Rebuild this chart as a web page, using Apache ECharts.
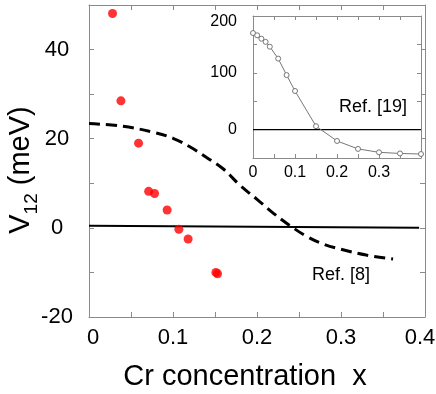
<!DOCTYPE html>
<html><head><meta charset="utf-8">
<script src="https://cdn.jsdelivr.net/npm/echarts@6/dist/echarts.min.js"></script>
<style>html,body{margin:0;padding:0;background:#fff}#c{width:436px;height:394px}</style>
</head><body><div id="c"></div>
<script>
// Main plot data
const redX = [0.028, 0.038, 0.059, 0.071, 0.078, 0.093, 0.107, 0.118, 0.151, 0.153];
const redY = [48.1, 28.5, 19.0, 8.2, 7.7, 4.0, -0.3, -2.5, -10.0, -10.3];
const ref8X = [0, 0.04, 0.08, 0.1, 0.12, 0.14, 0.16, 0.18, 0.2, 0.22, 0.24, 0.26, 0.28, 0.3, 0.33, 0.362];
const ref8Y = [23.4, 22.8, 21.3, 20.1, 18.2, 15.8, 13.2, 9.5, 6.4, 3.2, 0.4, -2.0, -3.7, -4.8, -6.1, -7.0];
const zeroX = [0, 0.393];
const zeroY = [0.5, 0];
// Inset data (Ref. [19])
const insetX = [0, 0.01, 0.02, 0.03, 0.04, 0.06, 0.08, 0.1, 0.15, 0.2, 0.25, 0.3, 0.35, 0.4];
const insetY = [170, 166, 160, 154.5, 146, 125, 96, 68, 6, -20, -34, -40, -42, -43];
const insetZeroX = [0, 0.4];
const insetZeroY = [0, 0];
// Tick labels
const mainXTicks = [0, 0.1, 0.2, 0.3, 0.4];
const mainYTicks = [-20, 0, 20, 40];
const insetXTicks = [0, 0.1, 0.2, 0.3];
const insetYTicks = [0, 100, 200];

const zip = (a, b) => a.map((v, i) => [v, b[i]]);
const FONT = 'Liberation Sans, Arial, sans-serif';
const frame = '#8a8a8a';
const near = (v, arr) => arr.some(t => Math.abs(t - v) < 1e-6);

const chart = echarts.init(document.getElementById('c'), null, {renderer: 'canvas'});

function frameAxis(gridIndex, pos, isX, min, max, interval, extra) {
  return Object.assign({
    type: 'value', gridIndex, position: pos, min, max, interval,
    axisLine: {show: true, onZero: false, lineStyle: {color: frame, width: 1}},
    axisTick: {show: true, inside: true, length: 5, lineStyle: {color: frame}},
    axisLabel: {show: false},
    splitLine: {show: false}
  }, extra || {});
}

chart.setOption({
  animation: false,
  backgroundColor: '#fff',
  grid: [
    {left: 89, top: 5, width: 336, height: 312, show: false, containLabel: false, outerBoundsMode: 'none'},
    {left: 253, top: 16, width: 168, height: 142, show: true, backgroundColor: '#fff', borderWidth: 0, z: 5, containLabel: false, outerBoundsMode: 'none'}
  ],
  xAxis: [
    frameAxis(0, 'bottom', true, 0, 0.4, 0.1, {
      minorTick: {show: true, splitNumber: 2, length: 5, lineStyle: {color: frame}},
      axisLabel: {show: true, fontFamily: FONT, fontSize: 22, color: '#000', margin: 10,
        formatter: v => near(v, mainXTicks) ? (near(v, [0.4]) ? '{r|0.4}' : (near(v,[0]) ? '{l|0}' : String(+v.toFixed(1)))) : '',
        rich: {r: {fontFamily: FONT, fontSize: 22, padding: [0, 10, 0, 0]}, l: {fontFamily: FONT, fontSize: 22, padding: [0, 0, 0, 8]}}},
      name: 'Cr concentration  x', nameLocation: 'middle', nameGap: 45, nameMoveOverlap: false,
      nameTextStyle: {fontFamily: FONT, fontSize: 29, color: '#000', padding: [0, 24, 0, 0]}
    }),
    frameAxis(0, 'top', true, 0, 0.4, 0.1, {minorTick: {show: true, splitNumber: 2, length: 5, lineStyle: {color: frame}}}),
    frameAxis(1, 'bottom', true, 0, 0.4, 0.05, {
      z: 6,
      axisTick: {show: true, inside: true, length: 4, lineStyle: {color: frame}},
      axisLabel: {show: true, fontFamily: FONT, fontSize: 16, color: '#000', margin: 7, showMaxLabel: true,
        formatter: v => near(v, insetXTicks) ? String(+v.toFixed(1)) : ''}
    }),
    frameAxis(1, 'top', true, 0, 0.4, 0.05, {z: 6, axisTick: {show: true, inside: true, length: 4, lineStyle: {color: frame}}})
  ],
  yAxis: [
    frameAxis(0, 'left', false, -20, 50, 10, {
      axisLabel: {show: true, fontFamily: FONT, fontSize: 22, color: '#000', margin: 32, align: 'center',
        formatter: v => near(v, mainYTicks) ? String(v) : ''},
      name: '{a|V}{b|12}{a| (meV)}', nameLocation: 'middle', nameGap: 54, nameMoveOverlap: false,
      nameTextStyle: {fontFamily: FONT, fontSize: 29, color: '#000', padding: [0, 18, 0, 0],
        rich: {a: {fontFamily: FONT, fontSize: 29, color: '#000', verticalAlign: 'bottom'},
               b: {fontFamily: FONT, fontSize: 19, color: '#000', verticalAlign: 'bottom', padding: [0, 0, -6, 0]}}}
    }),
    frameAxis(0, 'right', false, -20, 50, 10),
    frameAxis(1, 'left', false, -50, 200, 50, {
      z: 6,
      axisTick: {show: true, inside: true, length: 4, lineStyle: {color: frame}},
      axisLabel: {show: true, fontFamily: FONT, fontSize: 16, color: '#000', margin: 16,
        formatter: v => near(v, insetYTicks) ? (v === 200 ? '{d|200}' : String(v)) : '',
        rich: {d: {fontFamily: FONT, fontSize: 16, color: '#000', padding: [12, 0, 0, 0]}}}
    }),
    frameAxis(1, 'right', false, -50, 200, 50, {z: 6, axisTick: {show: true, inside: true, length: 4, lineStyle: {color: frame}}})
  ],
  series: [
    {type: 'line', name: 'zero', xAxisIndex: 0, yAxisIndex: 0, data: zip(zeroX, zeroY), symbol: 'none',
     lineStyle: {color: '#000', width: 2}, z: 3},
    {type: 'line', name: 'Ref. [8]', xAxisIndex: 0, yAxisIndex: 0, data: zip(ref8X, ref8Y), symbol: 'none', smooth: 0.4,
     lineStyle: {color: '#000', width: 3, type: [11, 6]}, z: 3},
    {type: 'scatter', name: 'V12', xAxisIndex: 0, yAxisIndex: 0, data: zip(redX, redY), symbol: 'circle', symbolSize: 9,
     itemStyle: {color: '#ff0000'}, z: 4},
    {type: 'line', name: 'inset zero', xAxisIndex: 2, yAxisIndex: 2, data: zip(insetZeroX, insetZeroY), symbol: 'none',
     lineStyle: {color: '#000', width: 1.3}, z: 7},
    {type: 'line', name: 'Ref. [19]', xAxisIndex: 2, yAxisIndex: 2, data: zip(insetX, insetY), symbol: 'circle', symbolSize: 5,
     showAllSymbol: true, lineStyle: {color: '#777', width: 1}, itemStyle: {color: '#fff', borderColor: '#777', borderWidth: 1}, z: 8}
  ],
  graphic: [
    {type: 'text', left: 312, top: 266, z: 10, style: {text: 'Ref. [8]', fontFamily: FONT, fontSize: 18, fill: '#000'}},
    {type: 'text', left: 339, top: 98, z: 10, style: {text: 'Ref. [19]', fontFamily: FONT, fontSize: 18, fill: '#000'}}
  ]
});
</script></body></html>
